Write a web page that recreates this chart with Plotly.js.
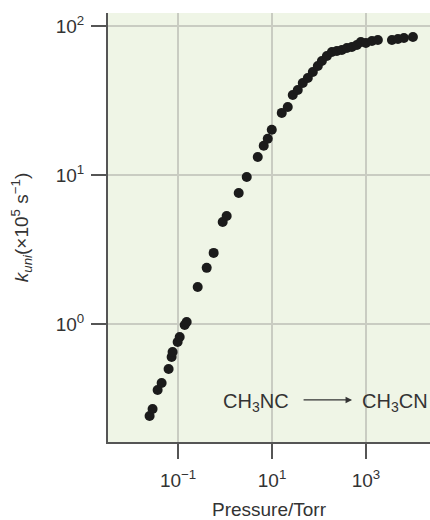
<!DOCTYPE html>
<html>
<head>
<meta charset="utf-8">
<script src="https://cdn.plot.ly/plotly-3.0.1.min.js"></script>
<style>html,body{margin:0;padding:0;background:#fff;}#chart{width:430px;height:520px;}</style>
</head>
<body>
<div id="chart"></div>
<script>
// Pressure (Torr) and unimolecular rate constant k_uni (x10^5 s^-1)
const pressure = [0.0247, 0.0286, 0.0366, 0.0445, 0.0627, 0.0727, 0.0763, 0.0976, 0.108, 0.138, 0.152,
  0.261, 0.406, 0.571, 0.889, 1.08, 1.95, 2.89, 4.96, 6.65, 8.10, 9.86,
  16.1, 21.6, 27.6, 35.3, 45.1, 57.7, 73.8, 94.3, 115, 147, 188, 240, 306, 392, 500, 640, 778, 995,
  1340, 1790, 3570, 4790, 6430, 10000];
const kuni = [0.241, 0.269, 0.361, 0.402, 0.499, 0.601, 0.649, 0.757, 0.818, 0.984, 1.03,
  1.77, 2.38, 3.00, 4.84, 5.31, 7.57, 9.70, 13.2, 15.7, 17.5, 20.1,
  26.1, 28.6, 34.4, 37.2, 41.4, 44.8, 49.1, 53.9, 58.2, 62.9, 66.9, 68.0, 69.0, 71.2, 72.3, 74.6, 78.1, 76.9,
  79.3, 80.5, 80.5, 81.8, 83.0, 84.4];

const xTickVals = [0.1, 10, 1000];
const xTickText = ['10<sup>−1</sup>', '10<sup>1</sup>', '10<sup>3</sup>'];
const yTickVals = [1, 10, 100];
const yTickText = ['10<sup>0</sup>', '10<sup>1</sup>', '10<sup>2</sup>'];

const font = 'Liberation Sans, Arial, Helvetica, sans-serif';

const trace = {
  x: pressure, y: kuni, type: 'scatter', mode: 'markers',
  marker: {size: 10, color: '#1b1b1b'},
  hoverinfo: 'skip', showlegend: false
};

const axisCommon = {
  type: 'log', showline: true, linewidth: 2, linecolor: '#555',
  ticks: 'outside', ticklen: 15, tickwidth: 2, tickcolor: '#555',
  showgrid: true, gridcolor: '#c9ccc2', gridwidth: 1.5,
  tickfont: {family: font, size: 19, color: '#333'},
  mirror: false, fixedrange: true
};

const layout = {
  width: 430, height: 520,
  margin: {l: 108, r: 0, t: 13, b: 78},
  paper_bgcolor: '#ffffff', plot_bgcolor: '#eff5e6',
  font: {family: font, color: '#333'},
  xaxis: Object.assign({}, axisCommon, {
    range: [-2.493, 4.363], tickmode: 'array', tickvals: xTickVals, ticktext: xTickText,
    ticklabelstandoff: 5,
    title: {text: 'Pressure/Torr', font: {family: font, size: 19, color: '#333'}, standoff: 14}
  }),
  yaxis: Object.assign({}, axisCommon, {
    range: [-0.792, 2.087], tickmode: 'array', tickvals: yTickVals, ticktext: yTickText,
    ticklabelstandoff: 3,
    title: {text: '<i>k</i><sub><i>uni</i></sub>(×10<sup>5</sup> s<sup>−1</sup>)', font: {family: font, size: 19, color: '#333'}, standoff: 22}
  }),
  annotations: [
    {xref: 'paper', yref: 'paper', x: 0.568, y: 0.093, xanchor: 'right', yanchor: 'middle',
     text: 'CH<sub>3</sub>NC', showarrow: false, font: {family: font, size: 20, color: '#333'}},
    {xref: 'paper', yref: 'paper', x: 0.783, y: 0.093, xanchor: 'left', yanchor: 'middle',
     text: 'CH<sub>3</sub>CN', showarrow: false, font: {family: font, size: 20, color: '#333'}},
    {xref: 'paper', yref: 'paper', x: 0.758, y: 0.098, text: '', showarrow: true,
     ax: -50, ay: 0, arrowhead: 2, arrowsize: 1, arrowwidth: 1.3, arrowcolor: '#333'}
  ]
};

Plotly.newPlot('chart', [trace], layout, {displayModeBar: false, staticPlot: true});
</script>
</body>
</html>
